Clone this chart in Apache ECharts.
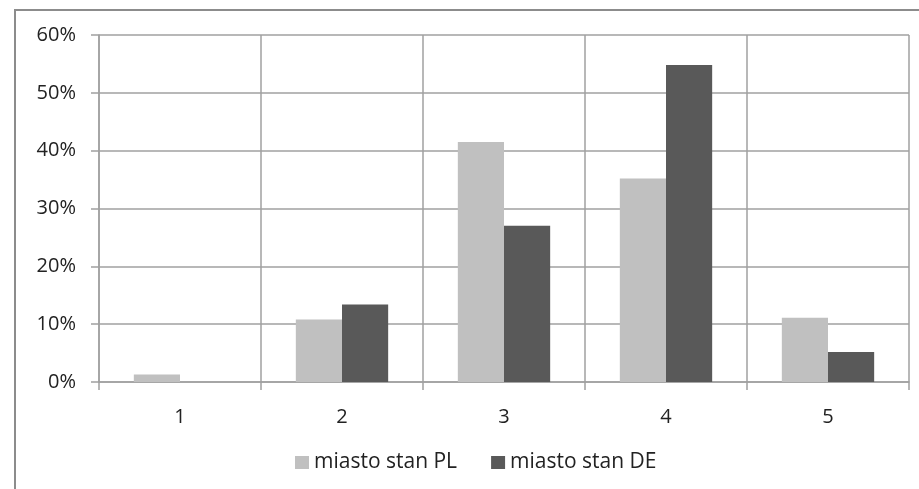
<!DOCTYPE html>
<html>
<head>
<meta charset="utf-8">
<script src="https://cdn.jsdelivr.net/npm/echarts@6/dist/echarts.min.js"></script>
<style>
html,body{margin:0;padding:0;background:#fff;}
#chart{width:919px;height:489px;}
</style>
</head>
<body>
<div id="chart"></div>
<script>
const categories = ['1', '2', '3', '4', '5'];
const seriesNames = ['miasto stan PL', 'miasto stan DE'];
const valuesPL = [1.3, 10.8, 41.5, 35.2, 11.1];
const valuesDE = [0, 13.4, 27.0, 54.8, 5.2];
const yTicks = [0, 10, 20, 30, 40, 50, 60];

const FONT = 'Open Sans';
const chart = echarts.init(document.getElementById('chart'), null, {renderer: 'canvas'});
chart.setOption({
  animation: false,
  backgroundColor: '#fff',
  textStyle: {fontFamily: FONT},
  graphic: [{
    type: 'rect',
    shape: {x: 15, y: 10, width: 1000, height: 1000},
    style: {fill: 'none', stroke: '#8c8c8c', lineWidth: 2},
    silent: true
  }],
  grid: {left: 99, right: 10, top: 35, bottom: 107, containLabel: false},
  legend: {
    top: 447,
    left: 290,
    itemWidth: 14,
    itemHeight: 13,
    itemGap: 34,
    icon: 'rect',
    textStyle: {fontSize: 21, color: '#222', fontFamily: FONT},
    data: seriesNames
  },
  xAxis: {
    type: 'category',
    data: categories,
    boundaryGap: true,
    axisLine: {lineStyle: {color: '#a0a0a0', width: 1.5}},
    axisTick: {show: true, length: 8, lineStyle: {color: '#a0a0a0', width: 1.5}},
    axisLabel: {fontSize: 20, color: '#222', margin: 25, fontFamily: FONT},
    splitLine: {show: true, lineStyle: {color: '#a0a0a0', width: 1.5}}
  },
  yAxis: {
    type: 'value',
    min: yTicks[0],
    max: yTicks[yTicks.length - 1],
    interval: 10,
    axisLine: {show: true, lineStyle: {color: '#a0a0a0', width: 1.5}},
    axisTick: {show: true, length: 8, lineStyle: {color: '#a0a0a0', width: 1.5}},
    axisLabel: {fontSize: 20, color: '#222', margin: 23, formatter: v => v + '%', fontFamily: FONT},
    splitLine: {show: true, lineStyle: {color: '#a0a0a0', width: 1.5}}
  },
  series: [
    {
      name: seriesNames[0], type: 'bar', data: valuesPL,
      barGap: '0%', barCategoryGap: '43%',
      itemStyle: {color: '#c0c0c0', borderWidth: 0}
    },
    {
      name: seriesNames[1], type: 'bar', data: valuesDE,
      barGap: '0%', barCategoryGap: '43%',
      itemStyle: {color: '#595959', borderWidth: 0}
    }
  ]
});
</script>
</body>
</html>
